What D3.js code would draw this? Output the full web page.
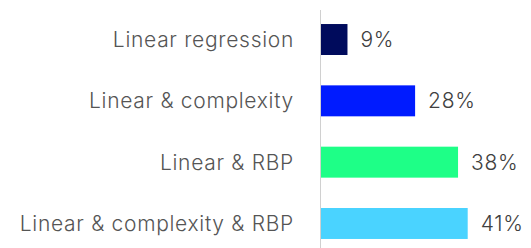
<!DOCTYPE html>
<html>
<head>
<meta charset="utf-8">
<script src="https://cdn.jsdelivr.net/npm/d3@7"></script>
<style>
  body { margin: 0; background: #fff; }
  svg { display: block; font-family: Inter, "Noto Sans", sans-serif; }
</style>
</head>
<body>
<svg></svg>
<script>
const categories = [
    'Linear regression',
    'Linear & complexity',
    'Linear & RBP',
    'Linear & complexity & RBP'
];
// bar lengths as drawn (the printed labels are rounded)
const values = [7.4, 26.3, 38.3, 41];
const valueLabels = ['9%', '28%', '38%', '41%'];
const colors = ['#000b5c', '#001bff', '#1eff87', '#4ad3ff'];

var width = 531,
    height = 248;

var svg = d3.select('svg')
    .attr('width', width)
    .attr('height', height);

var x = d3.scaleLinear()
    .domain([0, 41])
    .range([321, 467.7]);

var y = d3.scaleBand()
    .domain(categories)
    .range([8.7, 254.3])
    .paddingInner(0.495)
    .paddingOuter(0.25);

// baseline
svg.append('line')
    .attr('x1', 320.5).attr('x2', 320.5)
    .attr('y1', 10).attr('y2', height)
    .attr('stroke', '#d0d0d0')
    .attr('stroke-width', 1);

svg.append('g').selectAll('rect')
    .data(values).enter().append('rect')
    .attr('x', x(0))
    .attr('y', (d, i) => y(categories[i]))
    .attr('width', d => x(d) - x(0))
    .attr('height', y.bandwidth())
    .attr('fill', (d, i) => colors[i]);

svg.append('g').selectAll('text')
    .data(categories).enter().append('text')
    .attr('x', 294)
    .attr('y', d => y(d) + y.bandwidth() / 2)
    .attr('dy', '0.36em')
    .attr('text-anchor', 'end')
    .attr('font-size', 21)
    .attr('font-weight', 300)
    .attr('letter-spacing', 0.7)
    .attr('fill', '#555')
    .text(d => d);

svg.append('g').selectAll('text')
    .data(values).enter().append('text')
    .attr('x', d => x(d) + 13)
    .attr('y', (d, i) => y(categories[i]) + y.bandwidth() / 2)
    .attr('dy', '0.36em')
    .attr('font-size', 21)
    .attr('font-weight', 300)
    .attr('letter-spacing', 0.7)
    .attr('fill', '#404040')
    .text((d, i) => valueLabels[i]);
</script>
</body>
</html>
